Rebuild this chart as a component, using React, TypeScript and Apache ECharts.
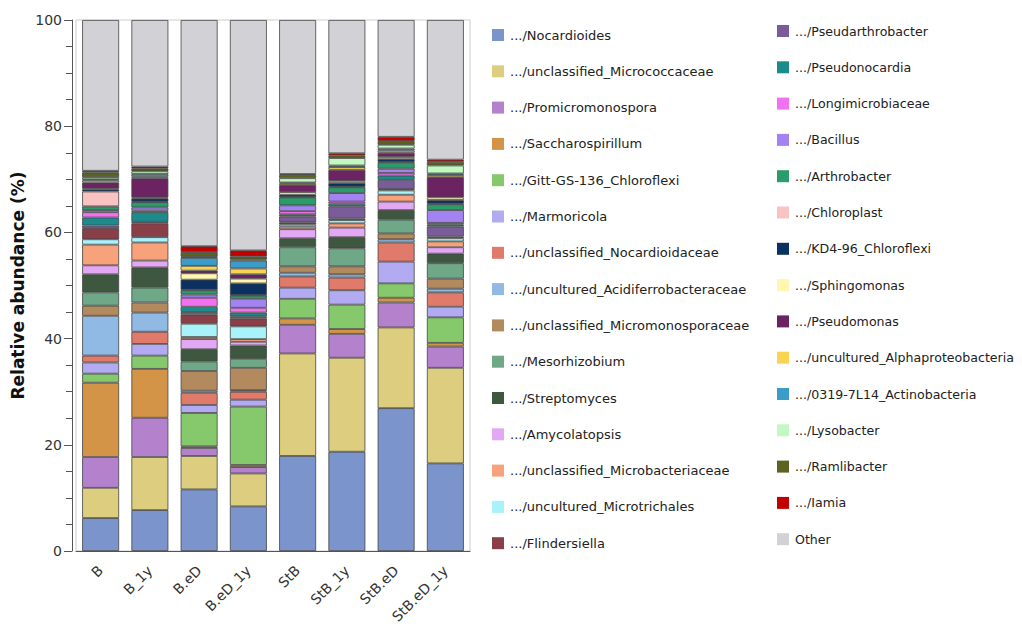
import React, { useEffect, useRef } from "react";
import * as echarts from "echarts";

const samples = ["B", "B_1y", "B.eD", "B.eD_1y", "StB", "StB_1y", "StB.eD", "StB.eD_1y"];

const taxa = [
  ".../Nocardioides",
  ".../unclassified_Micrococcaceae",
  ".../Promicromonospora",
  ".../Saccharospirillum",
  ".../Gitt-GS-136_Chloroflexi",
  ".../Marmoricola",
  ".../unclassified_Nocardioidaceae",
  ".../uncultured_Acidiferrobacteraceae",
  ".../unclassified_Micromonosporaceae",
  ".../Mesorhizobium",
  ".../Streptomyces",
  ".../Amycolatopsis",
  ".../unclassified_Microbacteriaceae",
  ".../uncultured_Microtrichales",
  ".../Flindersiella",
  ".../Pseudarthrobacter",
  ".../Pseudonocardia",
  ".../Longimicrobiaceae",
  ".../Bacillus",
  ".../Arthrobacter",
  ".../Chloroplast",
  ".../KD4-96_Chloroflexi",
  ".../Sphingomonas",
  ".../Pseudomonas",
  ".../uncultured_Alphaproteobacteria",
  ".../0319-7L14_Actinobacteria",
  ".../Lysobacter",
  ".../Ramlibacter",
  ".../Iamia",
  "Other",
];

const colors = [
  "#7b94cc", "#dcce7e", "#b481cc", "#d49448", "#86c96c", "#b3abf2", "#e07a6a", "#90b9e4",
  "#b28a5e", "#6ea886", "#3e5840", "#e2a8f4", "#f7a27a", "#a8f2fa", "#8a3e48", "#7b5c9a",
  "#1b8b8b", "#f271f0", "#a383f2", "#2b9b6b", "#f9c3c1", "#0b3161", "#fff6b2", "#6b2461",
  "#f9d452", "#3b9bc9", "#c2f8c2", "#5c6221", "#c20000", "#d2d2d6",
];

const nocardioides = [6.2, 7.7, 11.6, 8.4, 17.9, 18.7, 26.9, 16.5];
const micrococcaceae = [5.7, 10.0, 6.3, 6.2, 19.3, 17.7, 15.2, 18.0];
const promicromonospora = [5.8, 7.4, 1.5, 1.2, 5.4, 4.5, 4.7, 4.0];
const saccharospirillum = [14.0, 9.2, 0.3, 0.4, 1.2, 0.9, 0.9, 0.7];
const gittGS136 = [1.7, 2.5, 6.3, 11.0, 3.7, 4.6, 2.7, 4.8];
const marmoricola = [2.1, 2.2, 1.5, 1.3, 2.1, 2.7, 4.1, 2.0];
const nocardioidaceae = [1.3, 2.3, 2.3, 1.5, 2.1, 2.4, 3.6, 2.7];
const acidiferrobacteraceae = [7.5, 3.6, 0.4, 0.3, 0.7, 0.6, 0.6, 0.7];
const micromonosporaceae = [1.9, 1.9, 3.7, 4.2, 1.2, 1.5, 1.1, 1.9];
const mesorhizobium = [2.5, 2.8, 1.8, 1.7, 3.6, 3.4, 2.6, 2.9];
const streptomyces = [3.4, 3.8, 2.3, 2.5, 1.7, 2.1, 1.8, 1.8];
const amycolatopsis = [1.7, 1.3, 1.9, 0.7, 1.7, 1.8, 1.6, 1.2];
const microbacteriaceae = [3.9, 3.4, 0.4, 0.5, 0.5, 0.8, 1.3, 1.1];
const microtrichales = [1.0, 1.0, 2.5, 2.4, 0.4, 0.6, 0.8, 0.6];
const flindersiella = [2.1, 2.6, 1.7, 1.5, 0.4, 0.3, 0.3, 0.3];
const pseudarthrobacter = [0.5, 0.3, 0.5, 0.4, 1.1, 2.3, 1.7, 1.9];
const pseudonocardia = [1.5, 1.8, 1.0, 0.7, 0.4, 0.5, 0.8, 0.4];
const longimicrobiaceae = [1.0, 0.3, 1.7, 0.9, 0.6, 0.4, 0.5, 0.3];
const bacillus = [0.4, 0.6, 0.6, 1.7, 1.1, 1.6, 0.8, 2.4];
const arthrobacter = [0.7, 1.0, 0.8, 0.6, 1.5, 1.1, 1.2, 1.1];
const chloroplast = [2.8, 0.1, 0.1, 0.1, 0.1, 0.1, 0.1, 0.1];
const kd496 = [0.4, 0.6, 1.9, 2.2, 0.4, 0.7, 0.5, 0.7];
const sphingomonas = [0.2, 0.2, 1.2, 0.9, 0.5, 0.4, 0.4, 0.5];
const pseudomonas = [1.1, 3.6, 0.5, 0.8, 1.3, 2.1, 0.8, 3.8];
const alphaproteobacteria = [0.4, 0.3, 0.9, 1.1, 0.3, 0.5, 0.4, 0.4];
const actinobacteria0319 = [0.2, 0.5, 1.5, 1.5, 0.2, 0.3, 0.4, 0.3];
const lysobacter = [0.4, 0.5, 0.2, 0.2, 0.8, 1.4, 0.7, 1.5];
const ramlibacter = [0.9, 0.5, 0.9, 0.6, 0.6, 0.5, 0.7, 0.7];
const iamia = [0.3, 0.4, 1.1, 1.1, 0.2, 0.4, 0.8, 0.4];
const other = [28.4, 27.6, 42.6, 43.4, 29.0, 25.1, 22.0, 26.3];

const seriesValues = [
  nocardioides, micrococcaceae, promicromonospora, saccharospirillum, gittGS136, marmoricola,
  nocardioidaceae, acidiferrobacteraceae, micromonosporaceae, mesorhizobium, streptomyces,
  amycolatopsis, microbacteriaceae, microtrichales, flindersiella, pseudarthrobacter,
  pseudonocardia, longimicrobiaceae, bacillus, arthrobacter, chloroplast, kd496, sphingomonas,
  pseudomonas, alphaproteobacteria, actinobacteria0319, lysobacter, ramlibacter, iamia, other,
];

const yTicks = [0, 20, 40, 60, 80, 100];

const FONT = "DejaVu Sans";

export default function App() {
  const ref = useRef<HTMLDivElement>(null);
  useEffect(() => {
    if (!ref.current) return;
    const chart = echarts.init(ref.current, undefined, { renderer: "svg" });
    const legendCommon = {
      orient: "vertical" as const,
      padding: 0,
      itemWidth: 12,
      itemHeight: 12,
      itemGap: 23.3,
      icon: "rect",
      selectedMode: false,
      itemStyle: { borderWidth: 0 },
    };
    chart.setOption({
      animation: false,
      backgroundColor: "#fff",
      color: colors,
      legend: [
        {
          ...legendCommon,
          left: 492,
          top: 28.5,
          data: taxa.slice(0, 15),
          textStyle: { fontFamily: FONT, fontSize: 13, color: "#222", padding: [0, 0, 0, 1] },
        },
        {
          ...legendCommon,
          left: 777,
          top: 24.5,
          data: taxa.slice(15),
          textStyle: {
            fontFamily: FONT,
            fontSize: 12.6,
            color: "#222",
            padding: [0, 0, 0, 1],
            overflow: "none",
          },
        },
      ],
      grid: {
        left: 76,
        right: 1022 - 470,
        top: 20,
        bottom: 631 - 551,
        show: true,
        borderColor: "#cccccc",
        borderWidth: 1,
      },
      xAxis: {
        type: "category",
        data: samples,
        offset: 6,
        axisLine: { lineStyle: { color: "#555", width: 1 } },
        axisTick: { alignWithLabel: true, length: 8, lineStyle: { color: "#555" } },
        axisLabel: {
          rotate: 45,
          fontFamily: FONT,
          fontSize: 14,
          color: "#333",
          margin: 11,
          interval: 0,
        },
      },
      yAxis: {
        type: "value",
        min: yTicks[0],
        max: yTicks[yTicks.length - 1],
        interval: 20,
        offset: 4,
        name: "Relative abundance (%)",
        nameLocation: "middle",
        nameGap: 46,
        nameTextStyle: { fontFamily: FONT, fontSize: 17, fontWeight: "bold", color: "#111" },
        axisLine: { show: true, lineStyle: { color: "#555", width: 1 } },
        axisTick: { show: true, length: 8, lineStyle: { color: "#555" } },
        minorTick: { show: true, splitNumber: 4, length: 6, lineStyle: { color: "#555" } },
        splitLine: { show: false },
        axisLabel: { fontFamily: FONT, fontSize: 14, color: "#333", margin: 10 },
      },
      series: taxa.map((name, i) => ({
        name,
        type: "bar",
        stack: "total",
        barWidth: "75%",
        data: seriesValues[i],
        itemStyle: { color: colors[i], borderColor: "#444", borderWidth: 0.8 },
      })),
    });
    return () => chart.dispose();
  }, []);
  return <div ref={ref} style={{ width: 1022, height: 631, marginLeft: -8, marginTop: -8 }} />;
}
